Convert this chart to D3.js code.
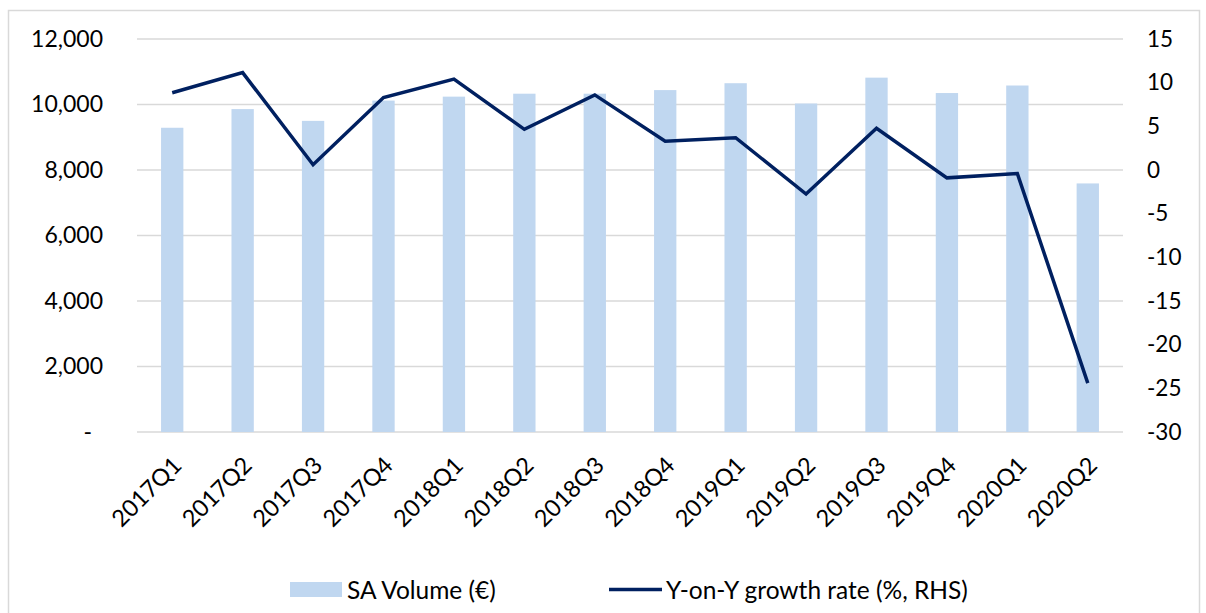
<!DOCTYPE html>
<html>
<head>
<meta charset="utf-8">
<script src="https://cdn.jsdelivr.net/npm/d3@7"></script>
<style>
  body { margin: 0; background: #fff; }
  text { font-family: Lato, "Open Sans", sans-serif; fill: #000; }
</style>
</head>
<body>
<div id="chart"></div>
<script>
// quarters on the x axis
var quarters = ['2017Q1', '2017Q2', '2017Q3', '2017Q4', '2018Q1', '2018Q2', '2018Q3',
  '2018Q4', '2019Q1', '2019Q2', '2019Q3', '2019Q4', '2020Q1', '2020Q2'];

// SA volume (EUR), left axis
var volume = [9290, 9860, 9500, 10120, 10240, 10330, 10330, 10440, 10650, 10030, 10820, 10350, 10580, 7590];

// year-on-year growth rate (%), right axis
var growth = [8.85, 11.15, 0.6, 8.3, 10.4, 4.66, 8.6, 3.3, 3.7, -2.75, 4.77, -0.9, -0.4, -24.4];

var left_ticks = [0, 2000, 4000, 6000, 8000, 10000, 12000];
var right_ticks = [-30, -25, -20, -15, -10, -5, 0, 5, 10, 15];

var chart_width = 1206;
var chart_height = 613;
var plot = { left: 137, right: 1123, top: 39, bottom: 432 };

var svg = d3.select('#chart')
  .append('svg')
  .attr('width', chart_width)
  .attr('height', chart_height);

// outer frame
svg.append('rect')
  .attr('x', 8.5)
  .attr('y', 10.5)
  .attr('width', 1191)
  .attr('height', 612)
  .attr('fill', 'none')
  .attr('stroke', '#d9d9d9')
  .attr('stroke-width', 1.5);

var x_scale = d3.scaleBand()
  .domain(quarters)
  .range([plot.left, plot.right])
  .paddingInner(0.683)
  .paddingOuter(0.3415);

var x_point = function(q) {
  return x_scale(q) + x_scale.bandwidth() / 2;
};

var y_left = d3.scaleLinear().domain([0, 12000]).range([plot.bottom, plot.top]);
var y_right = d3.scaleLinear().domain([-30, 15]).range([plot.bottom, plot.top]);

// gridlines
svg.append('g')
  .selectAll('line')
  .data(left_ticks)
  .enter()
  .append('line')
  .attr('x1', plot.left)
  .attr('x2', plot.right)
  .attr('y1', function(d) { return y_left(d); })
  .attr('y2', function(d) { return y_left(d); })
  .attr('stroke', '#d9d9d9')
  .attr('stroke-width', 1.5);

// bars
svg.append('g')
  .selectAll('rect')
  .data(volume)
  .enter()
  .append('rect')
  .attr('x', function(d, i) { return x_scale(quarters[i]); })
  .attr('y', function(d) { return y_left(d); })
  .attr('width', x_scale.bandwidth())
  .attr('height', function(d) { return plot.bottom - y_left(d); })
  .attr('fill', '#c0d7f0');

// growth line
var line = d3.line()
  .x(function(d, i) { return x_point(quarters[i]); })
  .y(function(d) { return y_right(d); });

svg.append('path')
  .datum(growth)
  .attr('d', line)
  .attr('fill', 'none')
  .attr('stroke', '#002060')
  .attr('stroke-width', 3.5)
  .attr('stroke-linejoin', 'miter');

// left axis labels
var left_axis = d3.axisLeft(y_left)
  .tickValues(left_ticks)
  .tickSize(0)
  .tickPadding(0)
  .tickFormat(function(d) { return d === 0 ? '-' : d3.format(',')(d); });

var gl = svg.append('g')
  .attr('transform', 'translate(103,0)')
  .call(left_axis);
gl.select('.domain').remove();
gl.selectAll('text')
  .attr('font-size', 23)
  .attr('font-family', 'Lato, sans-serif')
  .attr('fill', '#000');
gl.selectAll('text')
  .filter(function(d) { return d === 0; })
  .attr('x', -11);

// right axis labels (plain hyphen like the original)
var right_axis = d3.axisRight(y_right)
  .tickValues(right_ticks)
  .tickSize(0)
  .tickPadding(0)
  .tickFormat(function(d) { return String(d); });

var gr = svg.append('g')
  .attr('transform', 'translate(1147,0)')
  .call(right_axis);
gr.select('.domain').remove();
gr.selectAll('text')
  .attr('font-size', 22.5)
  .attr('font-family', 'Lato, sans-serif')
  .attr('fill', '#000');

// category labels, rotated
svg.append('g')
  .selectAll('text')
  .data(quarters)
  .enter()
  .append('text')
  .attr('transform', function(d) {
    return 'translate(' + (x_point(d) + 5) + ',461) rotate(-45)';
  })
  .attr('text-anchor', 'end')
  .attr('dy', '0.35em')
  .attr('font-size', 23.5)
  .text(function(d) { return d; });

// legend
var legend = svg.append('g');
legend.append('rect')
  .attr('x', 290)
  .attr('y', 582)
  .attr('width', 52)
  .attr('height', 15)
  .attr('fill', '#c0d7f0');
legend.append('text')
  .attr('x', 347)
  .attr('y', 590)
  .attr('dy', '0.35em')
  .attr('font-size', 24.5)
  .text('SA Volume (€)');
legend.append('line')
  .attr('x1', 609)
  .attr('x2', 662)
  .attr('y1', 589.5)
  .attr('y2', 589.5)
  .attr('stroke', '#002060')
  .attr('stroke-width', 3.5);
legend.append('text')
  .attr('x', 666)
  .attr('y', 590)
  .attr('dy', '0.35em')
  .attr('font-size', 24.5)
  .text('Y-on-Y growth rate (%, RHS)');
</script>
</body>
</html>
